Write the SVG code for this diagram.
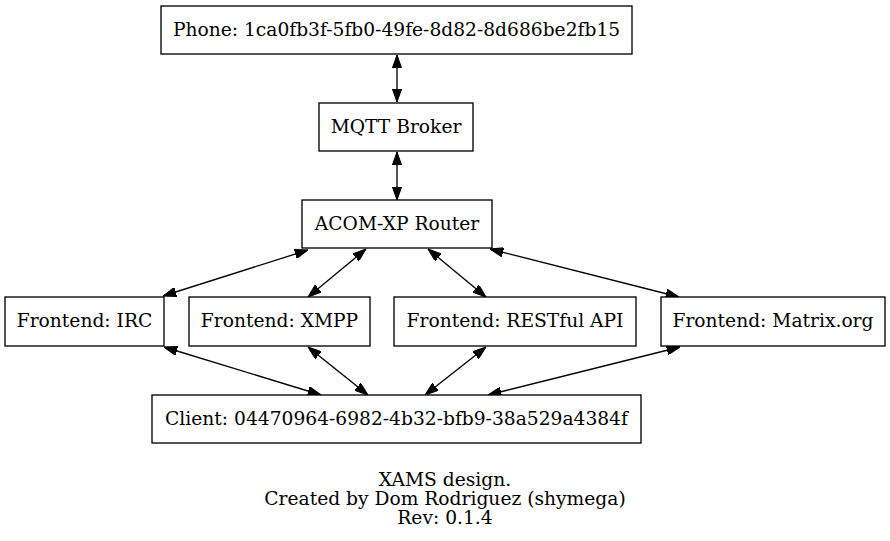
<svg xmlns="http://www.w3.org/2000/svg" width="890" height="541" viewBox="0 0 890 541">
<style>
.n rect{fill:#fff;stroke:#000;stroke-width:1.33}
text{font-family:"DejaVu Serif",serif;font-size:18.67px;fill:#000;text-anchor:middle}
.e line{stroke:#000;stroke-width:1.33;marker-start:url(#ah);marker-end:url(#ah)}
</style>
<defs>
<marker id="ah" viewBox="0 0 13.3 9.4" refX="13.3" refY="4.7" markerWidth="13.3" markerHeight="9.4" markerUnits="userSpaceOnUse" orient="auto-start-reverse">
<path d="M0,0 L13.3,4.7 L0,9.4 z" fill="#000" stroke="#000" stroke-width="1"/>
</marker>
</defs>
<rect width="890" height="541" fill="#fff"/>
<g class="e" id="edges">
<line x1="397" y1="55" x2="397" y2="102"/>
<line x1="397" y1="152" x2="397" y2="200"/>
<line x1="308" y1="250" x2="163" y2="296"/>
<line x1="366" y1="249" x2="308" y2="297"/>
<line x1="428" y1="249" x2="486" y2="297"/>
<line x1="490" y1="249" x2="679" y2="297"/>
<line x1="164" y1="347" x2="321" y2="395"/>
<line x1="308" y1="347" x2="368" y2="395"/>
<line x1="486" y1="347" x2="425" y2="395"/>
<line x1="680" y1="347" x2="488" y2="395"/>
</g>
<g class="n" id="phone"><rect x="161" y="6" width="471" height="48"/><text x="396.5" y="36">Phone: 1ca0fb3f-5fb0-49fe-8d82-8d686be2fb15</text></g>
<g class="n" id="mqtt"><rect x="319" y="103" width="154" height="48"/><text x="396" y="133">MQTT Broker</text></g>
<g class="n" id="router"><rect x="302" y="200" width="190" height="48"/><text x="397" y="230">ACOM-XP Router</text></g>
<g class="n" id="irc"><rect x="5" y="297" width="159" height="49"/><text x="84.5" y="327">Frontend: IRC</text></g>
<g class="n" id="xmpp"><rect x="189" y="297" width="181" height="49"/><text x="279.5" y="327">Frontend: XMPP</text></g>
<g class="n" id="rest"><rect x="394" y="297" width="242" height="49"/><text x="515" y="327">Frontend: RESTful API</text></g>
<g class="n" id="matrix"><rect x="661" y="297" width="224" height="49"/><text x="773" y="327">Frontend: Matrix.org</text></g>
<g class="n" id="client"><rect x="152" y="395" width="489" height="48"/><text x="396.5" y="425">Client: 04470964-6982-4b32-bfb9-38a529a4384f</text></g>
<g id="caption">
<text x="445" y="486">XAMS design.</text>
<text x="445" y="505">Created by Dom Rodriguez (shymega)</text>
<text x="445" y="524">Rev: 0.1.4</text>
</g>
</svg>
